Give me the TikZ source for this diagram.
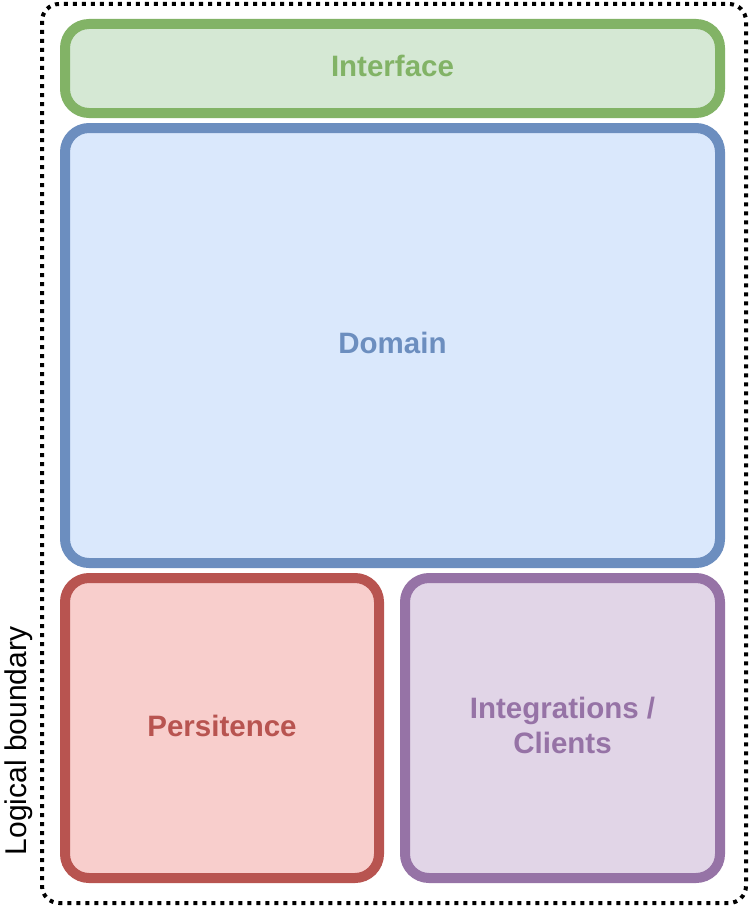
\documentclass[tikz,border=0pt]{standalone}
\usepackage{fontspec}
\setmainfont{Liberation Sans}
\definecolor{layercolor0001}{RGB}{130,179,102}
\definecolor{layercolor0002}{RGB}{213,232,212}
\definecolor{layercolor0003}{RGB}{108,142,191}
\definecolor{layercolor0004}{RGB}{218,232,252}
\definecolor{layercolor0005}{RGB}{184,84,80}
\definecolor{layercolor0006}{RGB}{248,206,204}
\definecolor{layercolor0007}{RGB}{150,115,166}
\definecolor{layercolor0008}{RGB}{225,213,231}
\begin{document}
\begin{tikzpicture}[yscale=-1
,lstyle0/.style={draw,line width=10pt,rounded corners=24pt,inner sep=0pt,align=center,text depth=5pt,font=\fontsize{29.5}{35}\selectfont\bfseries}
,lstyle1/.style={lstyle0,color=layercolor0001,fill=layercolor0002}
,lstyle2/.style={lstyle0,color=layercolor0003,fill=layercolor0004}
,lstyle3/.style={lstyle0,color=layercolor0005,fill=layercolor0006}
,lstyle4/.style={lstyle0,color=layercolor0007,fill=layercolor0008}
,bstyle0/.style={color=black,line width=4pt,dash pattern=on 4pt off 5pt,rounded corners=17pt}
]
\useasboundingbox (0pt,0pt) rectangle (749pt,907pt);
\draw[bstyle0] (42pt,4pt) rectangle (746pt,903pt);
\node[rotate=90,inner sep=0pt,color=black,font=\fontsize{30}{36}\selectfont] (boundary) at (18.5pt,741pt) {Logical boundary};
\node[lstyle1,minimum width=655pt,minimum height=89pt] (interface) at (392.5pt,68.5pt) {Interface};
\node[lstyle2,minimum width=655pt,minimum height=435pt] (domain) at (392.5pt,345.5pt) {Domain};
\node[lstyle3,minimum width=314pt,minimum height=300pt] (persistence) at (222pt,728pt) {Persitence};
\node[lstyle4,minimum width=315pt,minimum height=300pt] (integrations) at (562.5pt,728pt) {Integrations /\\Clients};
\end{tikzpicture}
\end{document}
